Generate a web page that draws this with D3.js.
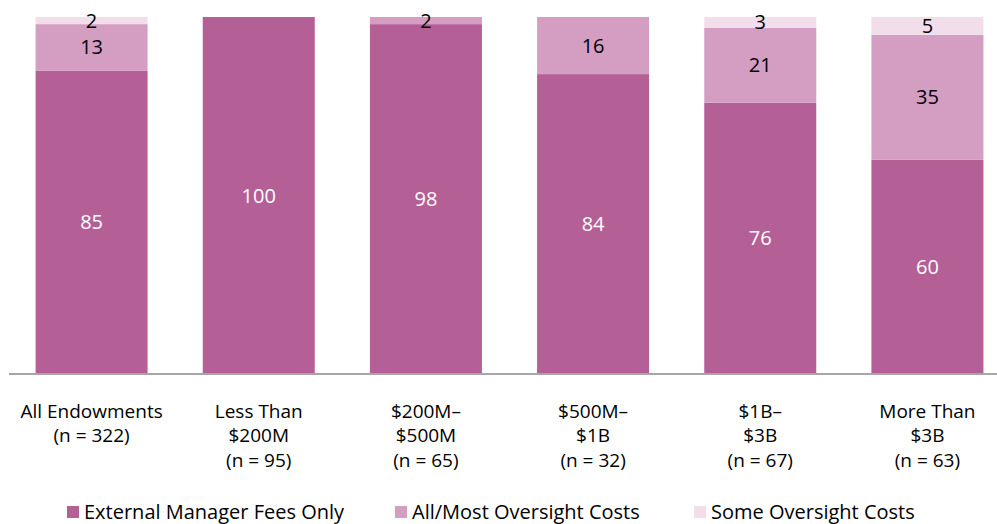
<!DOCTYPE html>
<html>
<head>
<meta charset="utf-8">
<script src="https://cdn.jsdelivr.net/npm/d3@7"></script>
<style>
body { margin: 0; background: #fff; }
text { font-family: 'Open Sans', sans-serif; }
</style>
</head>
<body>
<div id="chart"></div>
<script>
var categories = [['All Endowments', '(n = 322)'], ['Less Than', '$200M', '(n = 95)'], ['$200M–', '$500M', '(n = 65)'],
			['$500M–', '$1B', '(n = 32)'], ['$1B–', '$3B', '(n = 67)'], ['More Than', '$3B', '(n = 63)']]
var seriesNames = ['External Manager Fees Only', 'All/Most Oversight Costs', 'Some Oversight Costs']
var externalOnly = [85, 100, 98, 84, 76, 60]
var mostOversight = [13, 0, 2, 16, 21, 35]
var someOversight = [2, 0, 0, 0, 3, 5]

var color = ['#B45F96', '#D49EC2', '#F2DEEB']
var labelColor = ['#FFFFFF', '#000000', '#000000']

var width = 997
var height = 524

var svg = d3.select('#chart')
			.append('svg')
				.attr('width', width)
				.attr('height', height)

var rows = categories.map(function(c, i) {
	return {'key': i, 'ext': externalOnly[i], 'most': mostOversight[i], 'some': someOversight[i]}
})
var stack = d3.stack().keys(['ext', 'most', 'some'])
var layers = stack(rows)

var x = d3.scaleBand()
		.domain(d3.range(categories.length))
		.range([8, 1011])
		.paddingInner(0.33)
		.paddingOuter(0.165)

var y = d3.scaleLinear()
		.domain([0, 100])
		.range([374, 17])

var g = svg.selectAll('g.layer')
	.data(layers)
	.enter().append('g')
		.attr('class', 'layer')
		.attr('fill', function(d, i) { return color[i] })

g.selectAll('rect')
	.data(function(d) { return d })
	.enter().append('rect')
		.attr('x', function(d) { return x(d.data.key) })
		.attr('width', x.bandwidth())
		.attr('y', function(d) { return y(d[1]) })
		.attr('height', function(d) { return y(d[0]) - y(d[1]) })

g.selectAll('text')
	.data(function(d, li) {
		return d.map(function(v) { return {'v': v, 'layer': li} })
				.filter(function(e) { return e.v[1] - e.v[0] > 0 })
	})
	.enter().append('text')
		.attr('x', function(d) { return x(d.v.data.key) + x.bandwidth() / 2 })
		.attr('y', function(d) { return (y(d.v[0]) + y(d.v[1])) / 2 })
		.attr('dy', '0.35em')
		.attr('text-anchor', 'middle')
		.attr('fill', function(d) { return labelColor[d.layer] })
		.style('font-size', '20px')
		.text(function(d) { return d.v[1] - d.v[0] })

// axis line only, labels drawn below
var xAxis = svg.append('g')
	.attr('transform', 'translate(0,374)')
	.call(d3.axisBottom(x).tickSize(0).tickFormat(''))
xAxis.select('.domain')
	.attr('d', 'M9,0H997')
	.attr('stroke', '#A6A6A6')
	.attr('stroke-width', 2)

xAxis.selectAll('.tick').each(function(d) {
	var t = d3.select(this).append('text')
		.attr('text-anchor', 'middle')
		.attr('fill', '#000')
		.style('font-size', '19px')
	t.selectAll('tspan')
		.data(categories[d])
		.enter().append('tspan')
			.attr('x', 0)
			.attr('y', function(s, j) { return 43.5 + j * 24.5 })
			.text(function(s) { return s })
})

var legendX = [67, 395, 694]
var legend = svg.selectAll('g.legend')
	.data(seriesNames)
	.enter().append('g')
		.attr('class', 'legend')
		.attr('transform', function(d, i) { return 'translate(' + legendX[i] + ',506)' })

legend.append('rect')
	.attr('width', 12)
	.attr('height', 12)
	.attr('fill', function(d, i) { return color[i] })

legend.append('text')
	.attr('x', 17)
	.attr('y', 6)
	.attr('dy', '0.35em')
	.style('font-size', '20px')
	.text(function(d) { return d })
</script>
</body>
</html>
